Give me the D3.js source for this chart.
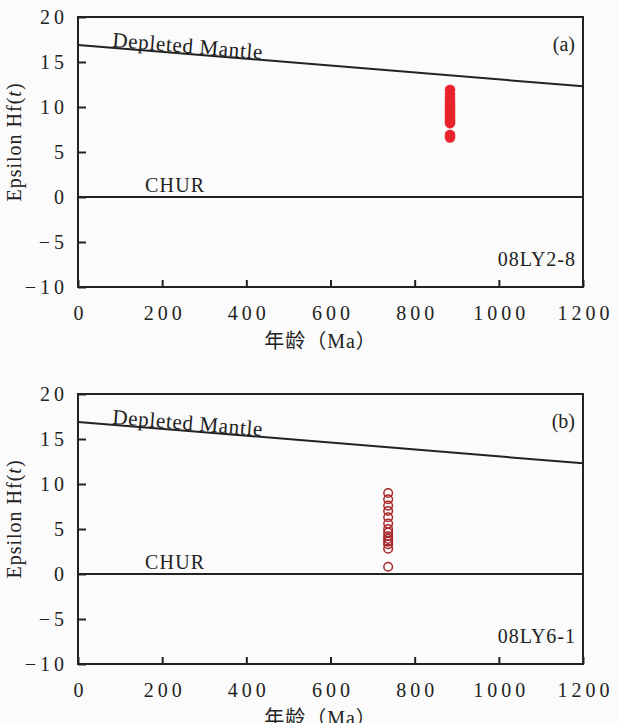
<!DOCTYPE html>
<html>
<head>
<meta charset="utf-8">
<script src="https://cdn.jsdelivr.net/npm/d3@7"></script>
<style>
  body { margin: 0; background: #fbfbfb; }
</style>
</head>
<body>
<div id="chart"></div>
<script>
// data
const ageTicks = [0, 200, 400, 600, 800, 1000, 1200];
const hfTicks = [-10, -5, 0, 5, 10, 15, 20];
const dmLine = [[0, 16.9], [1200, 12.3]];   // depleted mantle evolution
const churLine = [[0, 0], [1200, 0]];
const ageA = 884;
const hfA = [11.9, 11.4, 11.0, 10.6, 10.3, 10.0, 9.7, 9.4, 9.1, 8.8, 8.5, 8.2, 6.9, 6.6];
const ageB = 737;
const hfB = [9.0, 8.3, 7.6, 7.0, 6.3, 5.6, 5.0, 4.6, 4.2, 3.9, 3.6, 3.3, 2.8, 0.8];

const serif = '"Liberation Serif", "DejaVu Serif", serif';
const cjk = '"Liberation Serif", "Noto Sans CJK SC", serif';

const width = 618, height = 723;
const ml = 78, pw = 505, ph = 270;

const svg = d3.select("#chart").append("svg")
  .attr("width", width)
  .attr("height", height);

const x = d3.scaleLinear().domain([0, 1200]).range([0, pw]);
const y = d3.scaleLinear().domain([-10, 20]).range([ph, 0]);
const line = d3.line().x(d => x(d[0])).y(d => y(d[1]));

function txt(g, size) {
  return g.append("text").attr("fill", "#222")
    .style("font-family", serif).style("font-size", size + "px");
}

function panel(top, tag, sample, age, vals, filled) {
  const g = svg.append("g").attr("transform", `translate(${ml},${top})`);

  // axes, ticks pointing inward
  const xa = g.append("g").attr("transform", `translate(0,${ph})`)
    .call(d3.axisBottom(x).tickValues(ageTicks).tickFormat(d3.format("d")).tickSize(-7).tickPadding(19));
  const ya = g.append("g")
    .call(d3.axisLeft(y).tickValues(hfTicks).tickSize(-8).tickPadding(10));
  [xa, ya].forEach(a => {
    a.select(".domain").remove();
    a.selectAll("line").attr("stroke", "#222").attr("stroke-width", 2);
    a.selectAll("text")
      .style("font-family", serif)
      .style("font-size", "20px")
      .style("letter-spacing", "4px")
      .attr("fill", "#222");
  });
  xa.selectAll("text").attr("dx", "2px");

  g.append("rect").attr("width", pw).attr("height", ph)
    .attr("fill", "none").attr("stroke", "#222").attr("stroke-width", 2);

  g.append("path").datum(dmLine).attr("d", line)
    .attr("fill", "none").attr("stroke", "#222").attr("stroke-width", 2);
  g.append("path").datum(churLine).attr("d", line)
    .attr("fill", "none").attr("stroke", "#222").attr("stroke-width", 2);

  const ang = Math.atan2(y(dmLine[1][1]) - y(dmLine[0][1]), x(dmLine[1][0]) - x(dmLine[0][0])) * 180 / Math.PI;
  const tx = 34;
  const ty = y(dmLine[0][1]) + (y(dmLine[1][1]) - y(dmLine[0][1])) * tx / pw - 1;
  txt(g, 21).attr("transform", `translate(${tx},${ty}) rotate(${ang})`)
    .style("letter-spacing", "0.7px").text("Depleted Mantle");

  txt(g, 20).attr("x", 67).attr("y", y(0) - 5).style("letter-spacing", "1.2px").text("CHUR");

  txt(g, 20).attr("x", pw - 8).attr("y", 34).attr("text-anchor", "end").text(tag);

  txt(g, 20).attr("x", pw - 7).attr("y", y(-7) + 6).attr("text-anchor", "end")
    .style("letter-spacing", "1px").text(sample);

  g.selectAll(".pt").data(vals).join("circle")
    .attr("class", "pt")
    .attr("cx", x(age))
    .attr("cy", d => y(d))
    .attr("r", filled ? 5 : 4.3)
    .attr("fill", filled ? "#e8232b" : "none")
    .attr("stroke", filled ? "#e8232b" : "#a8262a")
    .attr("stroke-width", filled ? 0.5 : 1.5);

  txt(g, 20).attr("x", pw / 2 - 10).attr("y", ph + 61).attr("text-anchor", "middle")
    .style("font-family", cjk).style("letter-spacing", "1px").text("年龄（Ma）");

  const yt = txt(g, 20).attr("transform", `translate(${-57},${ph / 2 - 10}) rotate(-90)`)
    .attr("text-anchor", "middle").style("letter-spacing", "1px");
  yt.append("tspan").text("Epsilon Hf(");
  yt.append("tspan").style("font-style", "italic").text("t");
  yt.append("tspan").text(")");
}

panel(17, "(a)", "08LY2-8", ageA, hfA, true);
panel(394, "(b)", "08LY6-1", ageB, hfB, false);
</script>
</body>
</html>
